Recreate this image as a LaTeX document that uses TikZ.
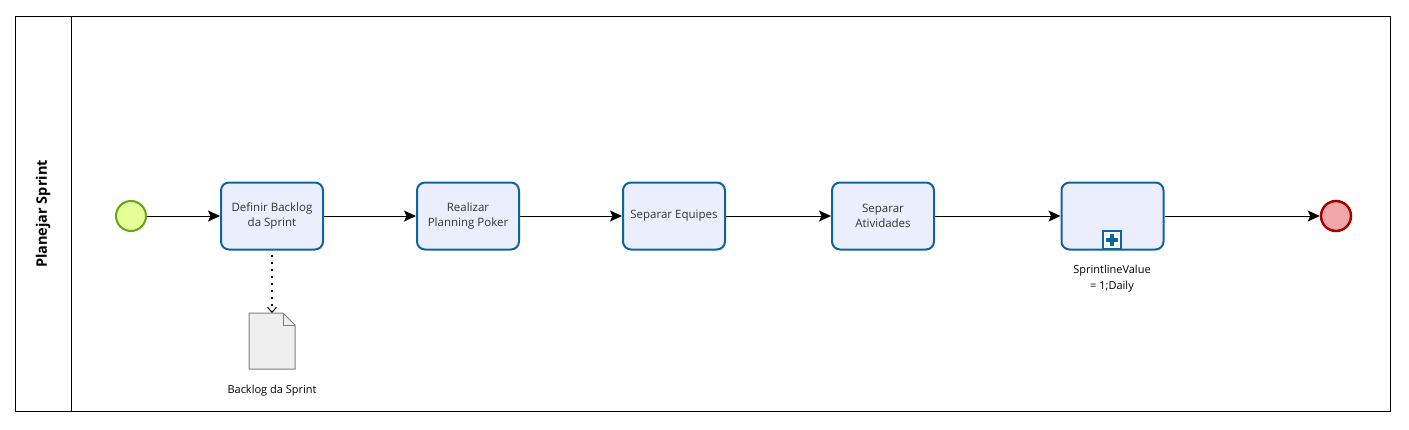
\documentclass[tikz,border=0pt]{standalone}
\usepackage{fontspec}
\setmainfont{Open Sans}
\usetikzlibrary{arrows.meta,calc}
\definecolor{taskfill}{HTML}{EAEEFD}
\definecolor{taskline}{HTML}{10649E}
\definecolor{startfill}{HTML}{E6FF97}
\definecolor{startline}{HTML}{62A716}
\definecolor{endfill}{HTML}{F1A7A7}
\definecolor{endline}{HTML}{A20000}
\definecolor{docfill}{HTML}{EFEFEF}
\definecolor{docline}{HTML}{7F7F7F}
\definecolor{txt}{HTML}{333333}
\tikzset{
  task/.style={draw=taskline, fill=taskfill, line width=2pt, rounded corners=8pt,
    minimum width=102pt, minimum height=67pt, inner sep=0pt, align=center,
    font=\fontsize{11.5pt}{14.5pt}\selectfont, text=txt},
  startev/.style={circle, draw=startline, fill=startfill, line width=2pt, minimum size=30pt, inner sep=0pt},
  endev/.style={circle, draw=endline, fill=endfill, line width=2.5pt, minimum size=30pt, inner sep=0pt},
  flow/.style={-{Stealth[length=12pt,width=11pt,inset=2.5pt]}, line width=1pt, draw=black},
  assoc/.style={line width=2pt, dash pattern=on 2pt off 5pt, -{Straight Barb[length=5pt,width=9pt,line width=1pt]}},
  lbl/.style={font=\fontsize{11pt}{16pt}\selectfont, text=black, align=center}
}
\begin{document}
\begin{tikzpicture}[x=1pt,y=-1pt]
\useasboundingbox (0,0) rectangle (1409,429);
% pool
\draw[line width=1pt, draw=black] (15,16) rectangle (1390,411);
\draw[line width=1pt] (71,16) -- (71,411);
\node[rotate=90, font=\bfseries\fontsize{14.5pt}{16pt}\selectfont] (pool) at (43,214) {Planejar Sprint};
% events
\node[startev] (s) at (131,216) {};
\node[endev] (e) at (1336,216) {};
% tasks
\node[task] (t1) at (272,216) {Definir Backlog\\da Sprint};
\node[task] (t2) at (468,216) {Realizar\\Planning Poker};
\node[task] (t3) at (674,216) {Separar Equipes};
\node[task] (t4) at (883,216) {Separar\\Atividades};
\node[task] (t5) at (1112.5,216) {};
% subprocess marker
\node[draw=taskline, fill=white, line width=2pt, minimum size=18.5pt, inner sep=0pt] (plus) at (1112,240) {};
\fill[taskline] ($(plus)+(-6,-2)$) rectangle ($(plus)+(6,2)$);
\fill[taskline] ($(plus)+(-2,-6)$) rectangle ($(plus)+(2,6)$);
\node[lbl] (t5l) at (1112,279) {SprintlineValue\\= 1;Daily};
% data object
\coordinate (dtop) at (272,313);
\draw[draw=docline, fill=docfill, line width=1pt] (249,313) -- (283,313) -- (295,325) -- (295,369) -- (249,369) -- cycle;
\draw[draw=docline, line width=1pt] (283,313) -- (283,325) -- (295,325);
\node[lbl] (dl) at (272,391) {Backlog da Sprint};
% flows
\draw[flow] (s) -- (t1);
\draw[flow] (t1) -- (t2);
\draw[flow] (t2) -- (t3);
\draw[flow] (t3) -- (t4);
\draw[flow] (t4) -- (t5);
\draw[flow] (t5) -- (e);
\draw[assoc] ($(t1.south)+(0,4)$) -- (dtop);
\end{tikzpicture}
\end{document}
